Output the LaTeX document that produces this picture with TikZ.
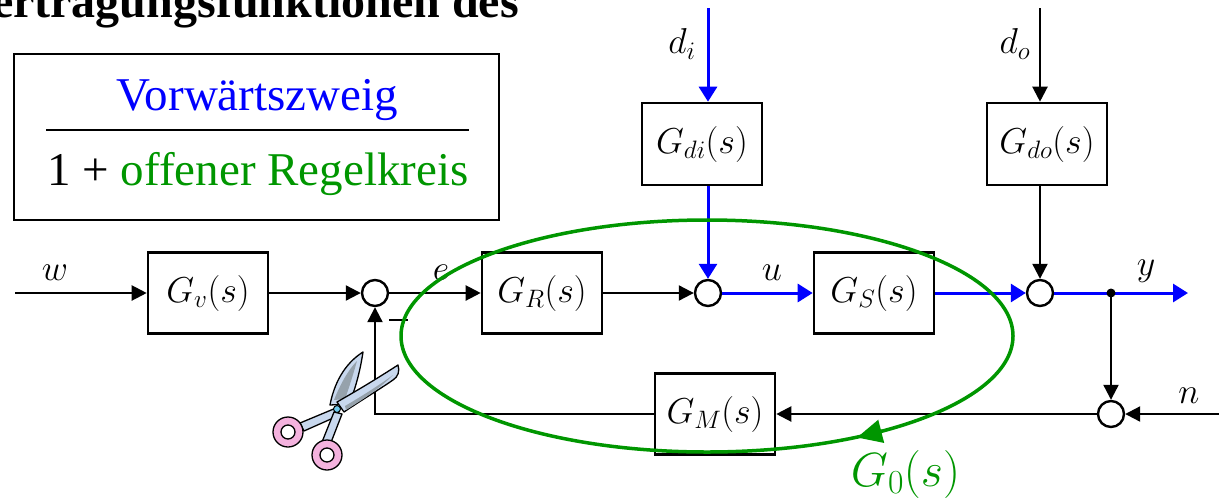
\RequirePackage{fix-cm}
\documentclass[tikz,border=0pt]{standalone}
\usepackage{fontspec}
\setmainfont{Liberation Serif}
\newfontfamily\timesfont{Liberation Serif}
\usetikzlibrary{arrows.meta}

\definecolor{fwdblue}{RGB}{0,0,255}
\definecolor{loopgreen}{RGB}{0,150,0}
\definecolor{bladeblue}{RGB}{200,216,238}
\definecolor{bladegray}{RGB}{150,162,172}
\definecolor{ringpink}{RGB}{244,178,222}
\definecolor{pivotcyan}{RGB}{110,200,235}

\newcommand{\headfont}{\timesfont\fontsize{48}{57}\selectfont\bfseries}
\newcommand{\fracfont}{\timesfont\fontsize{47}{56}\selectfont}
\newcommand{\blkfont}{\fontsize{36}{43}\selectfont}

\begin{document}
\begin{tikzpicture}[x=1pt,y=-1pt,
  sig/.style={line width=2.2pt},
  sigarrow/.style={sig,-{Triangle[length=15pt,width=15pt]}},
  fwdarrow/.style={line width=3pt, color=fwdblue, -{Triangle[length=15pt,width=18pt]}},
  blk/.style={draw, line width=2.6pt, fill=white, minimum width=120pt,
    minimum height=81pt, inner sep=0pt, font=\blkfont},
  sumc/.style={draw, circle, line width=2.4pt, fill=white, minimum size=26pt, inner sep=0pt},
  lbl/.style={font=\blkfont, inner sep=0pt},
  loop/.style={draw=loopgreen, line width=3.5pt},
  blade/.style={fill=bladeblue, draw=black, line width=1.3pt, line join=round},
]
\useasboundingbox (0,0) rectangle (1219,499);
\clip (0,0) rectangle (1219,499);

% heading line, cut at the top edge
\node[anchor=base east, font=\headfont, inner sep=0pt] (head) at (519,17) {Übertragungsfunktionen des};

% formula box
\node[draw, line width=2.6pt, minimum width=485pt, minimum height=166pt, inner sep=0pt] (fbox) at (256.5,137) {};
\node[anchor=base, font=\fracfont, text=fwdblue, inner sep=0pt] (num) at (257.5,110) {Vorwärtszweig};
\node[anchor=base, font=\fracfont, inner sep=0pt] (den) at (258,185) {1 + \textcolor{loopgreen}{offener Regelkreis}};
\draw[line width=2.2pt] (46,130) -- (469,130);

% blocks and summing points
\node[blk] (Gv) at (208,293) {$G_v(s)$};
\node[sumc] (s1) at (375,293) {};
\node[blk] (GR) at (542,293) {$G_R(s)$};
\node[sumc] (s2) at (708,293) {};
\node[blk] (GS) at (874,293) {$G_S(s)$};
\node[sumc] (s3) at (1040,293) {};
\node[blk, minimum height=82pt] (Gdi) at (702,144) {$G_{di}(s)$};
\node[blk, minimum height=82pt] (Gdo) at (1047,144) {$G_{do}(s)$};
\node[blk] (GM) at (715,414) {$G_M(s)$};
\node[sumc] (s4) at (1111,414) {};

\coordinate (br) at (1111,293);
\coordinate (win) at (15,293);
\coordinate (yout) at (1188,293);
\coordinate (nin) at (1219,414);
\coordinate (di0) at (708,8);
\coordinate (do0) at (1040,8);

% signal labels
\node[lbl] (wl) at (55,273) {$w$};
\node[lbl] (el) at (441,273) {$e$};
\node[lbl] (ul) at (772,273) {$u$};
\node[lbl] (yl) at (1146,271) {$y$};
\node[lbl] (nl) at (1189,396) {$n$};
\node[lbl] (dil) at (682,44) {$d_i$};
\node[lbl] (dol) at (1015,44) {$d_o$};

% minus sign of the feedback input
\coordinate (mA) at (389,320);
\coordinate (mB) at (408,320);
\draw[line width=2.5pt] (mA) -- (mB);

% signal flow
\draw[sigarrow] (win) -- (Gv);
\draw[sigarrow] (Gv) -- (s1);
\draw[sigarrow] (s1) -- (GR);
\draw[sigarrow] (GR) -- (s2);
\draw[fwdarrow] (di0) -- (di0 |- Gdi.north);
\draw[fwdarrow] (di0 |- Gdi.south) -- (s2);
\draw[fwdarrow] (s2) -- (GS);
\draw[fwdarrow] (GS) -- (s3);
\draw[fwdarrow] (s3) -- (yout);
\draw[sigarrow] (do0) -- (do0 |- Gdo.north);
\draw[sigarrow] (do0 |- Gdo.south) -- (s3);
\draw[sigarrow] (br) -- (s4);
\draw[sigarrow] (nin) -- (s4);
\draw[sigarrow] (s4) -- (GM);
\draw[sigarrow] (GM) -| (s1);
\fill (br) circle[radius=4.5pt];

% open loop G_0(s)
\draw[loop] (707,336) ellipse[x radius=306pt, y radius=116pt];
\draw[loop, -{Triangle[length=25pt,width=23pt]}] (882.5,431) -- (857,437.5);
\node[anchor=base, font=\fontsize{48}{58}\selectfont, text=loopgreen, inner sep=0pt] (g0) at (905.5,486) {$G_0(s)$};

% scissors cutting the feedback path
\filldraw[blade] (336,408) -- (300,423) -- (304,431) -- (340,415) -- cycle;
\filldraw[blade] (334,412) -- (322,442) -- (330,445) -- (342,414) -- cycle;
\filldraw[blade] (330,405) .. controls (334,384) and (344,364) .. (363,352)
  .. controls (360,372) and (355,390) .. (349,404) -- cycle;
\fill[bladegray] (334,400) .. controls (340,385) and (348,370) .. (357,361)
  .. controls (353,375) and (349,388) .. (345,399) -- cycle;
\filldraw[blade] (337,402) .. controls (358,390) and (378,378) .. (398,365)
  .. controls (400,371) and (398,377) .. (393,380)
  .. controls (377,391) and (360,401) .. (344,412) -- cycle;
\fill[bladegray] (345,406) .. controls (362,396) and (378,386) .. (393,375)
  .. controls (378,390) and (362,400) .. (346,410) -- cycle;
\filldraw[fill=ringpink, draw=black, line width=1.3pt, even odd rule]
  (288,432) circle[radius=15pt] (288,432) circle[radius=7pt];
\filldraw[fill=ringpink, draw=black, line width=1.3pt, even odd rule]
  (327,455) circle[radius=15pt] (327,455) circle[radius=7pt];
\filldraw[fill=pivotcyan, draw=black, line width=1pt] (337,409) circle[radius=3.5pt];
\end{tikzpicture}
\end{document}
